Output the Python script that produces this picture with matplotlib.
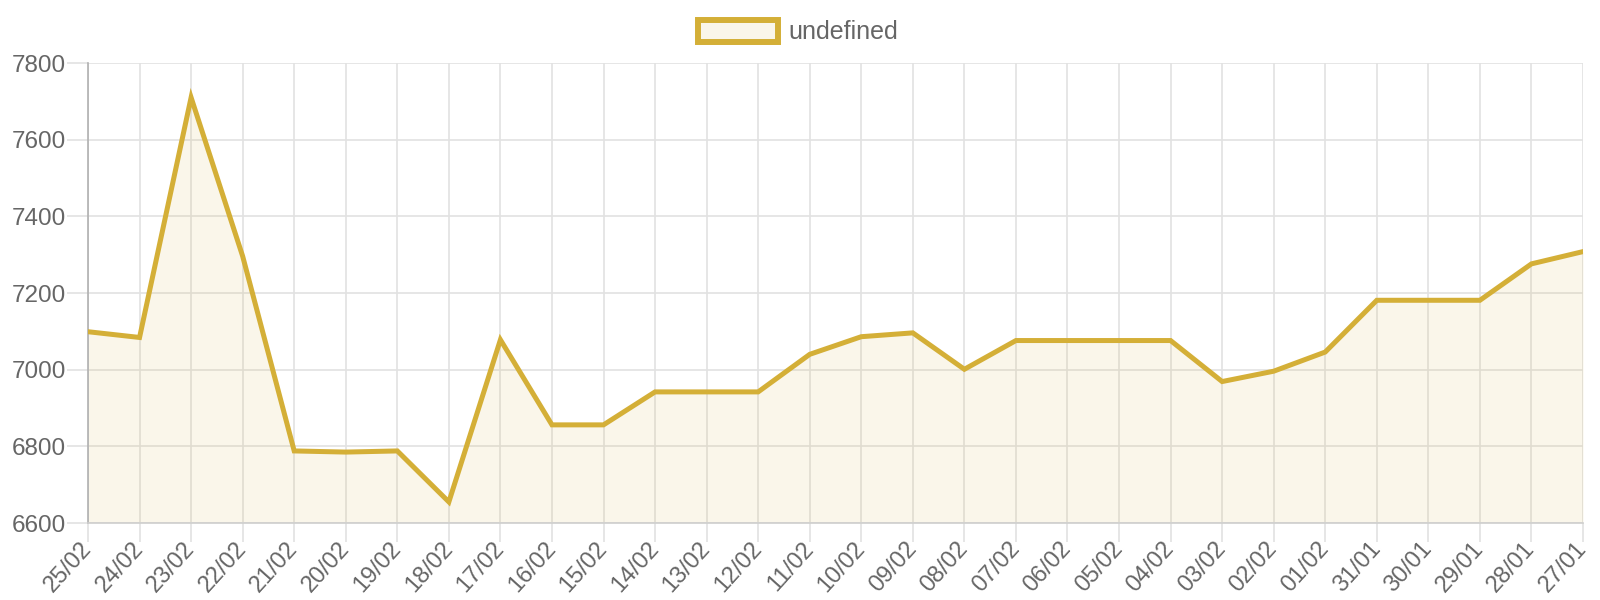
import matplotlib.pyplot as plt
from matplotlib.patches import Patch

# data
dates = ['25/02', '24/02', '23/02', '22/02', '21/02', '20/02', '19/02', '18/02',
         '17/02', '16/02', '15/02', '14/02', '13/02', '12/02', '11/02', '10/02',
         '09/02', '08/02', '07/02', '06/02', '05/02', '04/02', '03/02', '02/02',
         '01/02', '31/01', '30/01', '29/01', '28/01', '27/01']
values = [7099, 7084, 7710, 7296, 6788, 6785, 6788, 6655,
          7078, 6856, 6856, 6942, 6942, 6942, 7040, 7086,
          7096, 7001, 7076, 7076, 7076, 7076, 6969, 6996,
          7046, 7181, 7181, 7181, 7276, 7308]
yticks = [6600, 6800, 7000, 7200, 7400, 7600, 7800]
series_name = 'undefined'

line_color = '#D4AF37'
fill_color = (212 / 255, 175 / 255, 55 / 255, 0.1)
text_color = '#666666'
grid_color = '#e2e2e2'

plt.rcParams['font.family'] = ['Liberation Sans', 'DejaVu Sans']

fig = plt.figure(figsize=(16, 6), dpi=100)
# plot area in pixels: x 88..1583, y 63..523
ax = fig.add_axes([88 / 1600, 1 - 523 / 600, 1495 / 1600, 460 / 600])

x = list(range(len(dates)))
ax.fill_between(x, values, yticks[0], color=fill_color, linewidth=0, zorder=2)
ax.plot(x, values, color=line_color, linewidth=3.6, solid_joinstyle='miter', zorder=3)

ax.set_xlim(0, len(dates) - 1)
ax.set_ylim(yticks[0], yticks[-1])
ax.set_yticks(yticks)
ax.set_xticks(x)
ax.set_xticklabels(dates, rotation=48, ha='right', va='center', rotation_mode='anchor')

ax.grid(True, color=grid_color, linewidth=1.2, zorder=0)
ax.tick_params(axis='both', colors=grid_color, labelcolor=text_color, width=1.2)
ax.tick_params(axis='y', labelsize=17.5, length=15, pad=1)
ax.tick_params(axis='x', labelsize=17, length=14, pad=2)

for side in ['top', 'right']:
    ax.spines[side].set_visible(False)
ax.spines['left'].set_color('#b0b0b0')
ax.spines['bottom'].set_color('#cfcfcf')
ax.spines['left'].set_linewidth(1.2)
ax.spines['bottom'].set_linewidth(1.2)

handle = Patch(facecolor=fill_color, edgecolor=line_color, linewidth=4.3)
fig.legend([handle], [series_name], loc='center', bbox_to_anchor=(798 / 1600, 1 - 32 / 600),
           frameon=False, fontsize=18, labelcolor=text_color,
           handlelength=3.2, handleheight=0.96, handletextpad=0.4)

fig.savefig('out.png', dpi=100)
plt.close(fig)
